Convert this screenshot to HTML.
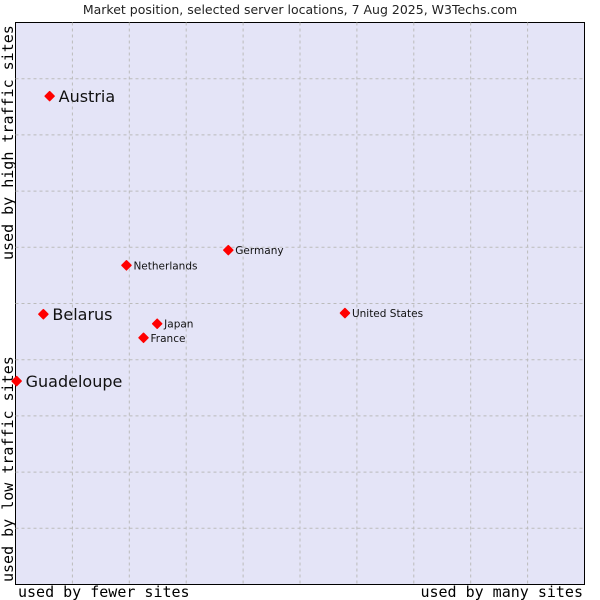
<!DOCTYPE html>
<html><head><meta charset="utf-8"><style>
body{margin:0;background:#fff}
svg{display:block}
</style></head><body>
<svg width="600" height="600" xmlns="http://www.w3.org/2000/svg">
<text x="300" y="14" text-anchor="middle" font-family="DejaVu Sans, sans-serif" font-size="12.5" fill="#222">Market position, selected server locations, 7 Aug 2025, W3Techs.com</text>
<rect x="15.5" y="22.5" width="569" height="562" fill="#e4e4f7" stroke="#000" stroke-width="1"/>
<g id="grid"></g>
<g id="pts"></g>
<text x="18" y="597" font-family="DejaVu Sans Mono, monospace" font-size="15" fill="#000">used by fewer sites</text>
<text x="583" y="597" text-anchor="end" font-family="DejaVu Sans Mono, monospace" font-size="15" fill="#000">used by many sites</text>
<text transform="translate(13,260) rotate(-90)" font-family="DejaVu Sans Mono, monospace" font-size="15" fill="#000">used by high traffic sites</text>
<text transform="translate(13,582) rotate(-90)" font-family="DejaVu Sans Mono, monospace" font-size="15" fill="#000">used by low traffic sites</text>
</svg>
<script>
const names=["Austria","Belarus","Guadeloupe","Netherlands","Germany","Japan","France","United States"];
const xs=[6,4.9,0.2,19.5,37.4,24.9,22.5,57.9];
const ys=[86.9,48.1,36.2,56.8,59.5,46.4,43.9,48.3];
const big=[true,true,true,false,false,false,false,false];
const L=15.5,R=584.5,T=22.5,B=584.5;
const sx=v=>L+v/100*(R-L), sy=v=>B-v/100*(B-T);
const NS="http://www.w3.org/2000/svg";
const g=document.getElementById('grid');
for(let i=1;i<10;i++){
 const v=document.createElementNS(NS,'line');
 v.setAttribute('x1',sx(i*10));v.setAttribute('x2',sx(i*10));v.setAttribute('y1',T);v.setAttribute('y2',B);
 v.setAttribute('stroke','#bbb');v.setAttribute('stroke-dasharray','3,3');
 
 
 g.appendChild(v);
 const h=document.createElementNS(NS,'line');
 h.setAttribute('y1',sy(i*10));h.setAttribute('y2',sy(i*10));h.setAttribute('x1',L);h.setAttribute('x2',R);
 h.setAttribute('stroke','#bbb');h.setAttribute('stroke-dasharray','3,3');
 
 
 g.appendChild(h);
}
const p=document.getElementById('pts');
names.forEach((n,i)=>{
 const x=sx(xs[i]),y=sy(ys[i]);
 const d=document.createElementNS(NS,'polygon');
 d.setAttribute('points',`${x},${y-4.5} ${x+4.5},${y} ${x},${y+4.5} ${x-4.5},${y}`);
 d.setAttribute('fill','#f00');d.setAttribute('stroke','#f00');d.setAttribute('stroke-linejoin','round');d.setAttribute('stroke-width','1.5');
 
 
 p.appendChild(d);
 const t=document.createElementNS(NS,'text');
 t.setAttribute('x',x+(big[i]?9:7));t.setAttribute('y',y+(big[i]?6:4));
 t.setAttribute('font-family','DejaVu Sans, sans-serif');t.setAttribute('font-size',big[i]?'16':'10.5');t.setAttribute('fill','#111');
 t.textContent=n;
 
 
 p.appendChild(t);
});
</script>
</body></html>
